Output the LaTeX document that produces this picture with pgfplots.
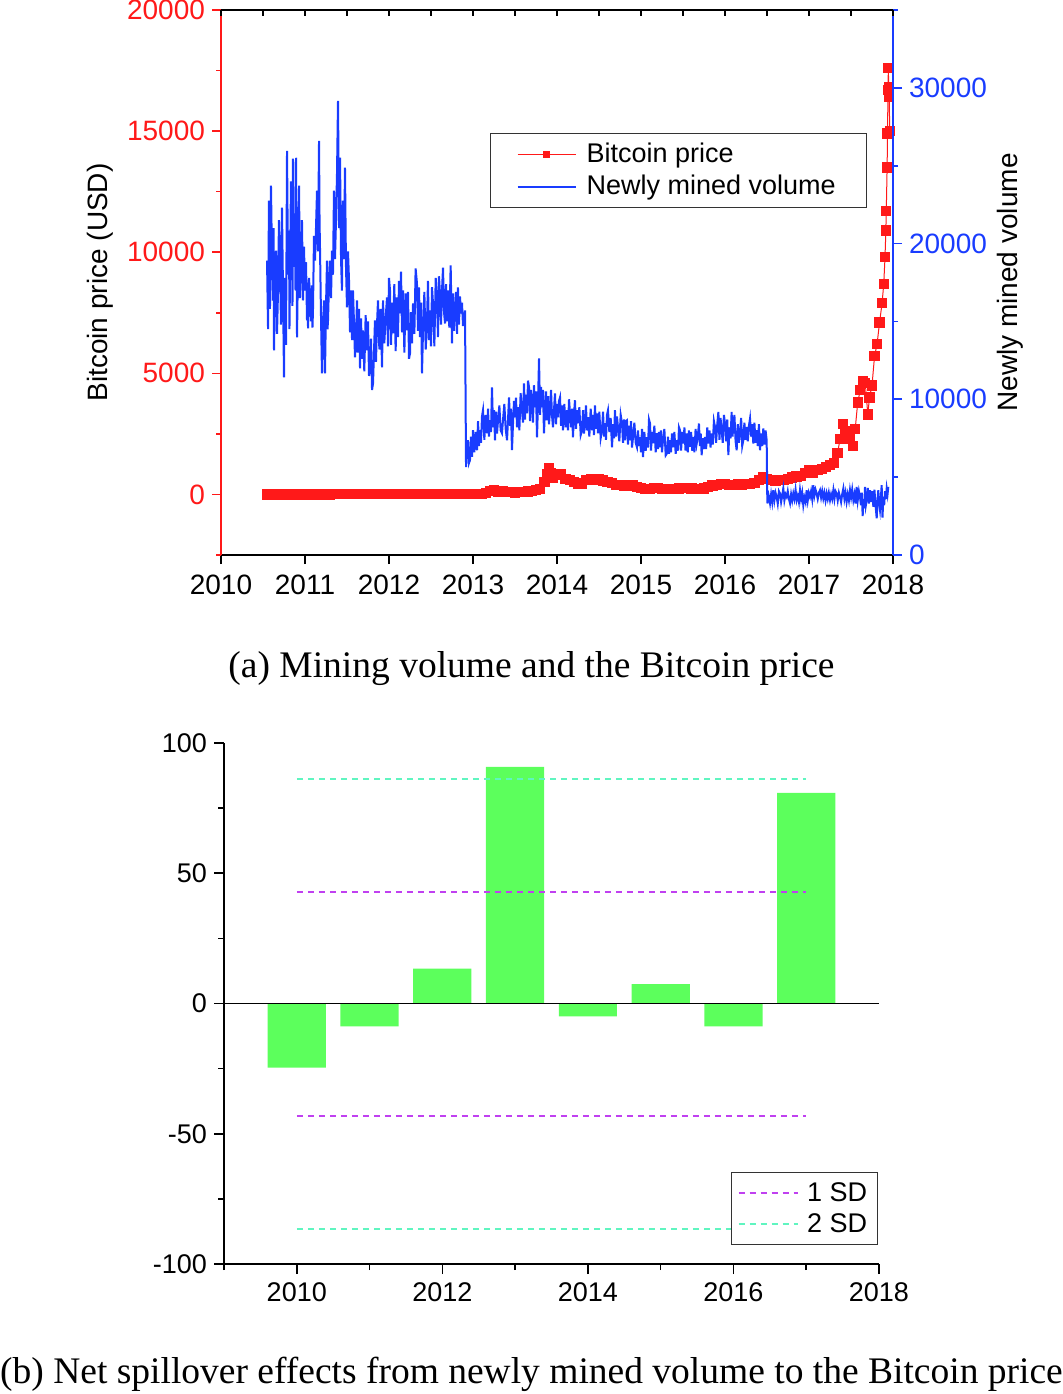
\documentclass[border=0pt]{standalone}
\usepackage{pgfplots}
\pgfplotsset{compat=1.18}
\usepackage{pgfplotstable}
\usepackage{fontspec}
\setmainfont{Liberation Sans}
\newfontfamily\capfont{Liberation Serif}
\definecolor{cred}{RGB}{255,25,25}
\definecolor{cblue}{RGB}{25,60,255}
\definecolor{cgreen}{RGB}{92,255,92}
\definecolor{cpurple}{RGB}{192,64,240}
\definecolor{caqua}{RGB}{96,245,192}

\pgfplotstableread{
year vol
2010.548 18910
2010.560 14500
2010.571 22756
2010.583 15800
2010.595 23717
2010.607 19000
2010.619 16346
2010.625 21000
2010.631 13141
2010.643 17500
2010.655 19551
2010.667 14200
2010.679 16987
2010.690 21500
2010.702 18910
2010.714 14800
2010.726 22307
2010.738 17000
2010.750 11410
2010.756 17800
2010.762 16346
2010.774 13500
2010.786 25961
2010.798 18000
2010.810 20833
2010.815 14500
2010.821 17435
2010.833 24000
2010.845 19551
2010.851 16000
2010.857 25448
2010.869 18500
2010.881 20192
2010.887 17000
2010.893 25512
2010.899 19500
2010.905 13974
2010.917 19000
2010.929 23717
2010.940 16500
2010.952 18269
2010.964 21500
2010.976 16346
2010.988 19800
2011.000 16987
2011.012 18800
2011.024 15064
2011.030 17500
2011.036 14551
2011.048 17800
2011.060 16346
2011.071 15000
2011.083 17307
2011.089 14600
2011.095 15705
2011.107 20500
2011.119 18910
2011.131 21000
2011.143 23397
2011.155 19500
2011.167 26602
2011.173 21500
2011.179 19551
2011.190 15500
2011.202 11666
2011.214 14800
2011.226 16346
2011.232 13500
2011.238 11666
2011.250 16000
2011.262 18910
2011.268 14500
2011.274 15064
2011.286 17500
2011.298 18910
2011.310 16500
2011.321 19551
2011.333 18000
2011.345 23397
2011.357 19000
2011.369 21474
2011.381 24500
2011.393 29166
2011.405 21000
2011.417 25512
2011.429 19000
2011.440 16987
2011.446 20500
2011.452 22756
2011.464 19000
2011.476 24871
2011.488 18500
2011.500 15897
2011.512 19500
2011.524 17628
2011.536 14300
2011.548 16987
2011.560 13800
2011.571 16987
2011.583 15000
2011.595 12692
2011.607 14000
2011.619 16346
2011.625 13000
2011.631 14871
2011.643 15800
2011.655 11987
2011.667 15200
2011.678 12600
2011.690 14423
2011.706 11800
2011.722 15400
2011.738 13141
2011.750 15000
2011.762 11500
2011.774 12051
2011.786 13900
2011.798 10600
2011.810 11025
2011.821 13000
2011.833 15064
2011.845 12400
2011.857 14800
2011.869 16346
2011.885 13200
2011.901 15800
2011.917 12051
2011.929 16346
2011.944 13600
2011.960 15200
2011.976 16538
2011.988 13400
2012.000 17800
2012.012 16987
2012.024 13500
2012.036 16200
2012.048 14230
2012.063 17400
2012.079 13100
2012.095 16538
2012.107 14000
2012.119 17600
2012.131 15512
2012.143 18200
2012.155 14300
2012.167 16987
2012.183 13000
2012.198 16800
2012.214 14423
2012.226 16900
2012.238 12600
2012.250 12948
2012.262 15600
2012.274 13600
2012.286 16153
2012.302 14200
2012.317 18400
2012.333 17435
2012.345 14400
2012.357 17179
2012.369 14000
2012.381 16200
2012.393 11666
2012.405 14423
2012.421 16900
2012.437 13200
2012.452 14871
2012.464 17600
2012.476 13800
2012.488 15705
2012.500 13400
2012.512 17200
2012.524 16153
2012.540 13400
2012.556 17800
2012.571 16538
2012.583 14000
2012.595 17900
2012.607 16794
2012.619 14800
2012.631 17000
2012.643 18461
2012.655 15600
2012.667 14871
2012.679 17400
2012.690 15000
2012.702 16987
2012.718 14600
2012.734 18600
2012.750 13589
2012.762 16800
2012.774 14400
2012.786 15705
2012.798 16900
2012.810 14200
2012.821 17179
2012.833 14800
2012.845 16600
2012.857 15512
2012.869 16200
2012.881 14700
2012.893 15256
2012.905 15705
2012.917 5641
2012.929 6800
2012.940 7372
2012.952 5900
2012.964 6090
2012.976 7600
2012.988 6300
2013.000 8013
2013.016 6600
2013.032 7900
2013.048 6731
2013.060 8600
2013.071 7000
2013.083 8013
2013.095 7200
2013.107 8900
2013.119 9295
2013.135 7400
2013.151 9000
2013.167 7820
2013.179 9400
2013.190 7600
2013.202 8654
2013.214 7900
2013.226 10769
2013.238 8200
2013.250 9300
2013.262 7372
2013.274 9200
2013.286 7800
2013.298 8654
2013.314 9600
2013.329 8000
2013.345 7820
2013.357 8654
2013.373 9700
2013.389 8100
2013.405 7372
2013.417 8700
2013.429 10128
2013.441 8300
2013.452 9400
2013.464 6731
2013.476 8400
2013.488 9900
2013.500 8846
2013.512 10100
2013.524 8200
2013.536 9487
2013.552 8000
2013.567 10400
2013.583 9295
2013.595 8500
2013.607 11025
2013.619 8700
2013.631 10300
2013.643 9102
2013.655 11200
2013.667 10769
2013.679 8600
2013.690 10600
2013.702 9936
2013.714 8500
2013.726 10900
2013.738 9487
2013.750 10500
2013.762 7564
2013.774 9800
2013.786 12628
2013.798 9000
2013.810 10800
2013.821 9487
2013.833 10600
2013.845 7820
2013.857 9400
2013.869 10500
2013.881 8654
2013.893 10200
2013.905 8400
2013.917 9295
2013.929 10600
2013.940 9000
2013.952 8205
2013.964 9300
2013.976 10384
2013.988 8400
2014.000 9700
2014.012 8846
2014.024 9900
2014.036 10128
2014.048 8300
2014.060 9600
2014.071 8013
2014.087 9700
2014.103 8200
2014.119 9295
2014.131 8000
2014.143 10000
2014.155 9102
2014.167 8200
2014.179 9400
2014.190 7564
2014.202 9000
2014.214 9936
2014.226 8100
2014.238 9300
2014.250 8461
2014.266 9500
2014.282 7700
2014.298 8013
2014.310 9300
2014.321 7800
2014.333 8461
2014.345 9600
2014.357 8000
2014.369 8846
2014.385 7600
2014.401 9400
2014.417 8013
2014.429 9000
2014.440 7700
2014.452 9615
2014.464 8100
2014.476 9100
2014.488 7820
2014.504 9200
2014.520 7500
2014.536 8013
2014.548 9200
2014.560 7600
2014.571 8461
2014.583 7400
2014.595 9000
2014.607 9295
2014.623 7900
2014.639 8800
2014.655 6923
2014.667 8400
2014.679 7500
2014.690 9295
2014.702 7600
2014.714 8900
2014.726 8205
2014.742 7300
2014.758 9000
2014.774 8461
2014.786 7200
2014.798 8700
2014.810 7372
2014.821 8600
2014.833 8654
2014.845 7100
2014.857 8300
2014.869 7372
2014.881 8600
2014.893 6900
2014.905 7564
2014.921 8500
2014.937 7200
2014.952 6923
2014.964 8000
2014.976 7000
2014.988 7564
2015.000 6600
2015.012 8100
2015.024 6282
2015.040 7900
2015.056 6700
2015.071 7564
2015.083 6900
2015.095 8700
2015.107 8461
2015.119 6700
2015.131 7900
2015.143 7179
2015.159 8300
2015.175 6600
2015.190 7820
2015.202 6800
2015.214 7900
2015.226 6923
2015.238 8000
2015.250 6600
2015.262 7372
2015.278 8100
2015.294 6400
2015.310 6538
2015.321 7600
2015.333 6500
2015.345 7372
2015.357 6600
2015.369 7800
2015.381 6923
2015.397 7900
2015.413 6500
2015.429 7372
2015.441 6700
2015.452 8200
2015.464 8013
2015.477 6700
2015.490 7900
2015.504 7160
2015.517 8200
2015.530 6700
2015.544 7801
2015.557 6600
2015.570 8000
2015.583 6942
2015.596 7900
2015.610 6700
2015.623 7583
2015.636 6600
2015.650 8100
2015.663 7160
2015.676 7600
2015.690 8442
2015.701 7000
2015.712 7800
2015.722 6410
2015.735 7500
2015.749 6800
2015.762 7583
2015.775 6800
2015.789 8200
2015.802 7160
2015.815 8000
2015.828 6900
2015.841 7801
2015.854 7100
2015.868 8600
2015.881 8224
2015.894 7200
2015.908 8400
2015.921 9186
2015.934 7400
2015.947 8800
2015.960 8013
2015.973 7200
2015.987 9000
2016.000 8442
2016.013 7300
2016.027 8700
2016.040 6410
2016.053 8200
2016.066 7500
2016.079 9186
2016.089 7600
2016.099 8224
2016.112 9000
2016.126 7300
2016.139 6731
2016.152 8400
2016.166 7200
2016.179 7904
2016.192 8800
2016.205 7000
2016.218 7372
2016.231 8500
2016.245 7400
2016.258 8224
2016.271 7300
2016.285 8300
2016.298 8762
2016.311 7600
2016.324 8400
2016.337 7160
2016.350 8500
2016.364 7200
2016.377 8013
2016.390 7000
2016.404 8400
2016.417 6731
2016.430 7800
2016.443 7000
2016.456 8121
2016.469 7100
2016.483 8000
2016.496 7372
2016.504 3314
2016.520 3800
2016.536 3314
2016.549 3900
2016.562 3400
2016.575 4167
2016.588 3500
2016.602 4000
2016.615 3737
2016.628 3300
2016.642 4100
2016.655 3955
2016.668 3400
2016.681 3800
2016.694 4276
2016.707 3500
2016.721 3900
2016.734 3737
2016.747 4100
2016.761 3600
2016.774 3314
2016.787 3900
2016.800 3500
2016.813 3955
2016.826 3600
2016.840 4200
2016.853 3526
2016.866 3800
2016.880 3400
2016.893 4167
2016.906 3600
2016.919 4000
2016.932 3205
2016.945 3700
2016.959 3400
2016.972 4167
2016.985 3500
2016.998 4000
2017.012 3737
2017.025 4100
2017.038 3600
2017.051 4487
2017.064 3800
2017.078 4200
2017.091 3955
2017.104 3600
2017.118 4000
2017.131 4167
2017.144 3700
2017.157 4100
2017.170 3634
2017.183 4000
2017.197 3500
2017.210 3955
2017.223 3600
2017.236 4000
2017.250 3526
2017.263 3900
2017.276 3600
2017.290 4167
2017.303 3600
2017.316 4100
2017.329 3955
2017.342 3500
2017.356 4000
2017.369 3737
2017.382 3400
2017.395 3900
2017.409 4276
2017.422 3600
2017.435 4000
2017.448 3417
2017.461 3900
2017.475 3500
2017.488 4167
2017.501 3700
2017.514 4200
2017.528 3526
2017.541 3900
2017.554 3300
2017.567 4378
2017.580 3500
2017.594 4100
2017.607 3737
2017.618 3200
2017.628 4000
2017.639 2500
2017.648 3600
2017.657 3000
2017.667 4378
2017.677 3200
2017.687 3526
2017.700 4300
2017.713 3300
2017.726 4167
2017.739 3400
2017.752 4100
2017.766 3096
2017.779 4200
2017.792 3200
2017.806 2353
2017.815 3500
2017.825 4167
2017.835 3300
2017.845 2885
2017.855 3600
2017.865 4487
2017.875 2400
2017.885 3737
2017.895 3200
2017.905 4100
2017.915 3600
2017.925 4276
2017.935 3900
2017.944 4378
}\vol

\pgfplotstableread{
year price
2010.55 0.07
2010.60 0.06
2010.65 0.06
2010.70 0.06
2010.75 0.10
2010.80 0.20
2010.85 0.25
2010.90 0.25
2010.95 0.30
2011.00 0.30
2011.05 0.50
2011.10 0.90
2011.15 0.90
2011.20 0.80
2011.25 0.80
2011.30 1.5
2011.35 5
2011.40 8
2011.45 20
2011.50 15
2011.55 14
2011.60 10
2011.65 8
2011.70 5
2011.75 3
2011.80 3
2011.85 3
2011.90 4
2011.95 4.5
2012.00 6
2012.05 6
2012.10 5
2012.15 5
2012.20 5
2012.25 5
2012.30 5
2012.35 5
2012.40 6
2012.45 7
2012.50 8
2012.55 10
2012.60 11
2012.65 11
2012.70 12
2012.75 11
2012.80 11
2012.85 12
2012.90 13
2012.95 13
2013.00 14
2013.05 20
2013.10 30
2013.15 60
2013.20 140
2013.25 200
2013.30 120
2013.35 120
2013.40 110
2013.45 100
2013.50 80
2013.55 100
2013.60 110
2013.65 125
2013.70 130
2013.75 180
2013.80 220
2013.85 500
2013.88 850
2013.90 1100
2013.93 900
2013.95 700
2014.00 800
2014.05 850
2014.10 650
2014.15 600
2014.20 500
2014.25 450
2014.30 450
2014.35 600
2014.40 650
2014.45 600
2014.50 620
2014.55 580
2014.60 520
2014.65 480
2014.70 400
2014.75 390
2014.80 370
2014.85 360
2014.90 370
2014.95 320
2015.00 280
2015.05 230
2015.10 240
2015.15 270
2015.20 260
2015.25 230
2015.30 240
2015.35 235
2015.40 240
2015.45 250
2015.50 280
2015.55 280
2015.60 250
2015.65 230
2015.70 240
2015.75 250
2015.80 300
2015.85 370
2015.90 400
2015.95 430
2016.00 430
2016.05 400
2016.10 380
2016.15 420
2016.20 415
2016.25 420
2016.30 440
2016.35 480
2016.40 600
2016.45 700
2016.50 650
2016.55 600
2016.60 580
2016.65 600
2016.70 610
2016.75 630
2016.80 700
2016.85 740
2016.90 750
2016.95 900
2017.00 1000
2017.05 900
2017.10 1000
2017.15 1050
2017.20 1150
2017.25 1200
2017.30 1300
2017.34 1700
2017.37 2300
2017.40 2900
2017.43 2600
2017.46 2450
2017.49 2300
2017.52 2000
2017.55 2700
2017.58 3800
2017.61 4300
2017.64 4700
2017.67 4600
2017.70 3300
2017.72 4000
2017.75 4500
2017.78 5700
2017.81 6200
2017.84 7100
2017.87 7900
2017.89 8700
2017.905 9800
2017.915 10900
2017.92 11700
2017.93 13500
2017.935 14900
2017.94 16700
2017.945 17600
2017.95 16400
2017.955 16800
2017.96 15000
}\price

\pgfplotsset{
  panelA/.style={
    at={(110.5pt,-277.5pt)}, anchor=south west,
    scale only axis, width=336pt, height=272.5pt,
    xmin=2010, xmax=2018,
    /pgf/number format/assume math mode=true,
    /pgf/number format/1000 sep={},
    scaled ticks=false,
    ticklabel style={font=\fontsize{14}{16}\selectfont},
    xticklabel style={yshift=-2pt},
    label style={font=\fontsize{14}{16}\selectfont},
    major tick length=4.5pt, minor tick length=2.5pt,
    every tick/.append style={line width=0.8pt},
  }
}

\begin{document}
\begin{tikzpicture}
\useasboundingbox (0,0) rectangle (531.5pt,-697pt);

% ---- panel (a): price (left axis)
\begin{axis}[panelA,
  axis x line*=bottom, axis y line*=left,
  ymin=-2500, ymax=20000,
  xtick={2010,2011,...,2018},
  ytick={0,5000,10000,15000,20000},
  minor ytick={-2500,2500,7500,12500,17500},
  tick align=outside,
  x axis line style={black, line width=0.8pt},
  y axis line style={cred, line width=0.8pt},
  xtick style={black},
  ytick style={cred},
  yticklabel style={text=cred},
  ylabel={Bitcoin price (USD)},
  ylabel style={at={(axis description cs:-0.18,0.5)}, anchor=center},
]
\addplot[cred, line width=0.5pt, mark=square*, mark size=2.3pt,
  mark options={solid, draw=cred, fill=cred}] table[x=year, y=price] {\price};
\end{axis}

% ---- panel (a): volume (right axis)
\begin{axis}[panelA,
  axis x line=none, axis y line*=right,
  ymin=0, ymax=35000,
  ytick={0,10000,20000,30000},
  minor ytick={5000,15000,25000,35000},
  tick align=outside,
  y axis line style={cblue, line width=0.8pt},
  ytick style={cblue},
  yticklabel style={text=cblue},
  ylabel={Newly mined volume},
  ylabel style={at={(axis description cs:1.174,0.5)}, anchor=center},
  legend image code/.code={\draw[mark repeat=2, mark phase=2, #1] plot coordinates {(0pt,0pt) (14.5pt,0pt) (29pt,0pt)};},
  legend style={at={(0.4003,0.7743)}, anchor=north west, draw=black!80, fill=white,
    font=\fontsize{13.5}{16}\selectfont, inner xsep=13pt, inner ysep=2.5pt,
    nodes={inner sep=2.35pt}, column sep=2.65pt, line width=0.6pt},
  legend cell align=left,
]
\addlegendimage{cred, line width=0.5pt, mark=square*, mark size=1.5pt, mark options={solid, fill=cred}}
\addlegendentry{Bitcoin price}
\addplot[cblue, line width=1pt] table[x=year, y=vol] {\vol};
\addlegendentry{Newly mined volume}
\end{axis}

% ---- panel (a): top frame ticks
\begin{axis}[panelA,
  axis x line*=top, axis y line=none,
  ymin=0, ymax=1,
  xtick={2010,2011,...,2018},
  minor xtick={2010.5,2011.5,...,2017.5},
  xticklabels={},
  tick align=inside,
  major tick length=3pt, minor tick length=3pt,
  x axis line style={black, line width=0.8pt},
  xtick style={black},
]
\addplot[draw=none] coordinates {(2010,0)};
\end{axis}

\node[font=\capfont\fontsize{18.75}{21}\selectfont, anchor=center] at (265.75pt,-334.5pt)
  {(a) Mining volume and the Bitcoin price};

% ---- panel (b)
\begin{axis}[
  at={(112pt,-632pt)}, anchor=south west,
  scale only axis, width=327.5pt, height=260.5pt,
  xmin=2009, xmax=2018, ymin=-100, ymax=100,
  axis lines*=left,
  xtick={2010,2012,...,2018},
  minor xtick={2009,2011,...,2017},
  ytick={-100,-50,...,100},
  minor ytick={-75,-25,25,75},
  tick align=outside,
  /pgf/number format/assume math mode=true,
  /pgf/number format/1000 sep={},
  ticklabel style={font=\fontsize{13.5}{16}\selectfont},
  xticklabel style={yshift=-1pt},
  major tick length=5pt, minor tick length=3pt,
  every tick/.append style={black, line width=0.8pt},
  axis line style={black, line width=0.8pt},
  legend image code/.code={\draw[#1] (0pt,0pt) -- (29.5pt,0pt);},
  legend style={at={(0.774,0.1766)}, anchor=north west, draw=black!80, fill=white,
    font=\fontsize{13.5}{16}\selectfont, inner xsep=3pt, inner ysep=2.5pt,
    nodes={inner sep=2.3pt}, column sep=2pt, line width=0.6pt},
  legend cell align=left,
]
\addplot[ybar, bar width=0.8, fill=cgreen, draw=none, forget plot] coordinates {
  (2010,-24.6) (2011,-8.8) (2012,13.4) (2013,90.8)
  (2014,-4.9) (2015,7.4) (2016,-8.8) (2017,80.9)
};
\addplot[black, line width=0.9pt, forget plot] coordinates {(2009,0) (2018,0)};
\addplot[cpurple, line width=1pt, dash pattern=on 3pt off 2.5pt] coordinates {(2010,42.7) (2017,42.7)};
\addlegendentry{1 SD}
\addplot[caqua, line width=1pt, dash pattern=on 3pt off 2.5pt] coordinates {(2010,86.1) (2017,86.1)};
\addlegendentry{2 SD}
\addplot[cpurple, line width=1pt, dash pattern=on 3pt off 2.5pt, forget plot] coordinates {(2010,-43.1) (2017,-43.1)};
\addplot[caqua, line width=1pt, dash pattern=on 3pt off 2.5pt, forget plot] coordinates {(2010,-86.5) (2017,-86.5)};
\end{axis}

\node[font=\capfont\fontsize{18.75}{21}\selectfont, anchor=center] at (265.75pt,-687pt)
  {(b) Net spillover effects from newly mined volume to the Bitcoin price};
\end{tikzpicture}
\end{document}
